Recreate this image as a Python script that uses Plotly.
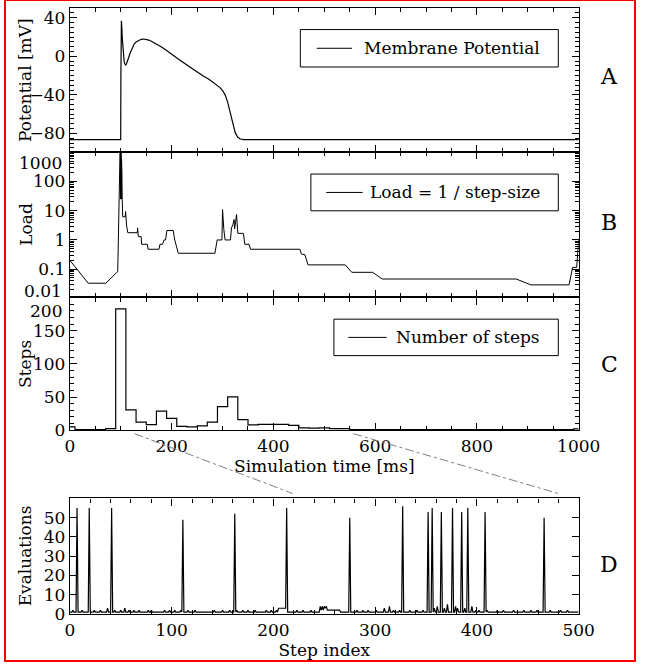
import plotly.graph_objects as go

# ---------------- data ----------------
# Panel A: membrane potential
time_ms = [0, 99.8, 100.2, 100.6, 101.2, 102, 103, 104, 105, 106.5, 108, 109.5, 111, 113, 115,
           118, 122, 126, 130, 135, 140, 145, 150, 155, 160, 170, 180, 190, 200, 215, 230, 249,
           262, 274, 286, 295, 300, 305, 310, 315, 320, 325, 330, 335, 342, 360, 1000]
potential_mv = [-86.5, -86.5, -20, 20, 37, 30, 18, 8, 0, -5, -8, -9, -8, -5.5, -2,
                3, 8.5, 12.5, 15, 16.8, 17.7, 18, 17.6, 16.9, 15.6, 13, 9.8, 6, 2, -3.5, -9, -16,
                -20.5, -24, -28.5, -32.5, -35.5, -40, -47.5, -58, -70.5, -79.5, -84, -85.8, -86.4, -86.5, -86.5]

# Panel B: load = 1 / step-size
time_load = [0, 36, 70.5, 94, 99, 99.4, 99.8, 100.2, 100.6, 101, 101.4, 101.8, 102.2, 102.8, 103.7,
             108.8, 109.4, 111.5, 113.8, 132.5, 133, 134.4, 140, 141, 152, 153.8, 175, 177, 182, 185,
             188, 190.6, 203, 206, 209, 213, 285, 289.4, 298.8, 300, 302.5, 305, 315.6, 317.5, 320.6,
             322.5, 323.8, 327.5, 330, 341, 343.8, 352, 355, 452, 455, 462, 468, 541, 554, 595,
             614, 877, 906, 981, 988, 996, 1000]
load = [0.2, 0.033, 0.033, 0.083, 3000, 25, 2000, 30, 1500, 25, 600, 40, 200, 25, 6.2,
        6.2, 9.4, 3, 1.77, 1.77, 2.6, 1.3, 1.3, 0.71, 0.71, 0.48, 0.48, 0.71, 0.71, 1.0,
        1.0, 2.1, 2.1, 1.0, 0.6, 0.35, 0.35, 1.0, 1.0, 11, 2.3, 1.0, 1.0, 2.6, 3.4,
        5, 2.4, 7.4, 1.68, 1.68, 0.71, 0.71, 0.48, 0.48, 0.33, 0.31, 0.14, 0.14, 0.078, 0.078,
        0.046, 0.046, 0.029, 0.029, 0.115, 0.115, 1.0]

# Panel C: number of steps per time bin (bin edges in ms)
bin_edges = [0, 10, 30, 50, 70, 90, 110, 130, 150, 170, 190, 210, 230, 250, 270, 290, 310, 330,
             350, 370, 390, 410, 430, 450, 470, 490, 510, 530, 550, 570, 590, 610, 630, 650, 670,
             690, 710, 730, 750, 770, 790, 810, 830, 850, 870, 890, 910, 930, 950, 970, 990, 1000]
steps_per_bin = [5, 1, 1, 1, 2.5, 183, 30.5, 12.3, 8.4, 28.6, 17.7, 5.9, 4.9, 6.4, 12.3, 35.5, 50.2,
                 15.8, 7.9, 8.9, 8.9, 8.9, 7.4, 3.4, 3, 3.4, 2.5, 2.5, 1, 1, 1, 1, 1, 1, 1,
                 1, 1, 1, 1, 1, 1, 1, 1, 1, 1, 1, 1, 1, 1, 1, 2]

# Panel D: evaluations per step
n_steps = 500
baseline_evals = 1
spike_steps = [7, 19, 41, 111, 162, 213, 275, 327, 352, 356, 365, 376, 385, 391, 408, 466]
spike_evals = [55, 55, 55, 49, 52, 55, 50, 56, 53, 55, 53, 55, 53, 55, 53, 50]
bump_steps = [3, 12, 24, 30, 37, 44, 50, 54, 58, 63, 68, 77, 80, 93, 98, 103, 109, 116, 123,
              142, 150, 157, 164, 170, 175, 182, 193, 198, 203, 205, 206, 207, 208, 209, 210, 211,
              212, 223, 229, 237, 246, 247, 248, 249, 250, 251, 252, 253, 254, 255, 256, 257, 258,
              259, 260, 261, 262, 263, 264, 265, 282, 288, 293, 301, 309, 314, 318, 324, 334, 341,
              347, 358, 361, 368, 371, 379, 381, 388, 395, 399, 402, 410, 420, 426, 436, 446, 453,
              459, 472, 482, 489]
bump_evals = [2, 2, 2, 2, 3, 2, 2, 3, 2, 2, 2, 2, 2, 2, 2, 2, 2, 2, 2,
              2, 2, 2, 2, 2, 2, 2, 2, 2, 2, 3, 3, 3, 3, 3, 3, 3,
              3, 2, 2, 2, 4, 2, 4, 2, 4, 3, 4, 2, 2, 2, 2, 2, 2,
              2, 2, 2, 2, 2, 2, 2, 2, 2, 2, 2, 3, 4, 2, 2, 2, 2,
              2, 3, 4, 3, 5, 4, 3, 3, 4, 2, 2, 2, 2, 2, 2, 2, 2,
              2, 2, 2, 2]

step_index = list(range(n_steps + 1))
evaluations = [baseline_evals] * (n_steps + 1)
for s, v in zip(bump_steps, bump_evals):
    evaluations[s] = v
for s, v in zip(spike_steps, spike_evals):
    evaluations[s] = v

# Connector lines: time (ms) in panel C -> step index in panel D
connector_time = [127, 557]
connector_step = [219, 480]

# ---------------- layout helpers ----------------
W, H = 657, 671
FONT = "DejaVu Serif, Liberation Serif, serif"


def px(x):
    return x / W


def py(y):
    return 1 - y / H


XL, XR = 67.7, 598.3
A_top, A_bot = 8.3, 154
B_top, B_bot = 154, 302
C_top, C_bot = 302, 436.7
D_top, D_bot = 506, 623.3

dom_x = [px(XL), px(XR)]

tickfont = dict(family=FONT, size=17, color="black")
common = dict(showline=True, linecolor="black", linewidth=1.3, mirror="allticks",
              ticks="inside", ticklen=7, tickwidth=1, tickcolor="black",
              showgrid=False, zeroline=False, tickfont=tickfont)

fig = go.Figure()
fig.add_trace(go.Scatter(x=time_ms, y=potential_mv, mode="lines", name="Membrane Potential",
                         line=dict(color="black", width=1.2), xaxis="x", yaxis="y", showlegend=False))
fig.add_trace(go.Scatter(x=time_load, y=load, mode="lines", name="Load = 1 / step-size",
                         line=dict(color="black", width=1), xaxis="x2", yaxis="y2", showlegend=False))
fig.add_trace(go.Scatter(x=bin_edges, y=steps_per_bin + [steps_per_bin[-1]], mode="lines",
                         name="Number of steps", line=dict(color="black", width=1.2, shape="hv"),
                         xaxis="x3", yaxis="y3", showlegend=False))
fig.add_trace(go.Scatter(x=step_index, y=evaluations, mode="lines", name="Evaluations",
                         line=dict(color="black", width=1.2), xaxis="x4", yaxis="y4", showlegend=False))

minor_t = dict(ticks="inside", ticklen=4, tickcolor="black", dtick=50, showgrid=False)
log_minor_vals = [k * 10 ** e for e in range(-2, 3) for k in range(2, 10)]

fig.update_layout(
    width=W, height=H, margin=dict(l=0, r=0, t=0, b=0),
    paper_bgcolor="white", plot_bgcolor="white",
    xaxis=dict(domain=dom_x, anchor="y", range=[0, 1000], dtick=200, showticklabels=False,
               minor=minor_t, **common),
    yaxis=dict(domain=[py(A_bot), py(A_top)], anchor="x", range=[-99, 50],
               tickvals=[-80, -40, 0, 40],
               minor=dict(ticks="inside", ticklen=4, dtick=5, tickcolor="black", showgrid=False),
               **common),
    xaxis2=dict(domain=dom_x, anchor="y2", range=[0, 1000], dtick=200, showticklabels=False,
                minor=minor_t, **common),
    yaxis2=dict(domain=[py(B_bot), py(B_top)], anchor="x2", type="log", range=[-1.97, 3.02],
                tickvals=[0.1, 1, 10, 100, 1000], ticktext=["0.1", "1", "10", "100", ""],
                minor=dict(ticks="inside", ticklen=4, tickmode="array", tickvals=log_minor_vals,
                           tickcolor="black", showgrid=False),
                **common),
    xaxis3=dict(domain=dom_x, anchor="y3", range=[0, 1000], dtick=200, minor=minor_t,
                title=dict(text="Simulation time [ms]", font=dict(family=FONT, size=17, color="black"),
                           standoff=4),
                **common),
    yaxis3=dict(domain=[py(C_bot), py(C_top)], anchor="x3", range=[0, 200],
                tickvals=[0, 50, 100, 150, 200], ticktext=["0", "50", "100", "150", ""],
                minor=dict(ticks="inside", ticklen=4, dtick=10, tickcolor="black", showgrid=False),
                **common),
    xaxis4=dict(domain=dom_x, anchor="y4", range=[0, 500], dtick=100,
                minor=dict(ticks="inside", ticklen=4, dtick=20, tickcolor="black", showgrid=False),
                title=dict(text="Step index", font=dict(family=FONT, size=17, color="black"), standoff=2),
                **common),
    yaxis4=dict(domain=[py(D_bot), py(D_top)], anchor="x4", range=[0, 60],
                tickvals=[0, 10, 20, 30, 40, 50, 60], ticktext=["0", "10", "20", "30", "40", "50", ""],
                **common),
)

annots = []
shapes = []

# y-axis titles
for text, top, bot in [("Potential [mV]", A_top, A_bot), ("Load", B_top, B_bot),
                       ("Steps", C_top, C_bot), ("Evaluations", D_top, D_bot)]:
    annots.append(dict(text=text, x=px(21), y=py((top + bot) / 2), xref="paper", yref="paper",
                       textangle=-90, showarrow=False, xanchor="center", yanchor="middle",
                       font=dict(family=FONT, size=17, color="black")))

# shifted edge tick labels
for text, y in [("1000", 165.5), ("0.01", 295), ("200", 315.5)]:
    annots.append(dict(text=text, x=px(62), y=py(y), xref="paper", yref="paper", showarrow=False,
                       xanchor="right", yanchor="middle", font=tickfont))

# panel letters
for text, y in [("A", 78), ("B", 226), ("C", 370), ("D", 573)]:
    annots.append(dict(text=text, x=px(630), y=py(y), xref="paper", yref="paper", showarrow=False,
                       xanchor="center", yanchor="middle",
                       font=dict(family=FONT, size=22, color="black")))

# legend boxes
for text, x0, y0, y1, lx0, lx1 in [("Membrane Potential", 308, 30, 68, 325, 362),
                                   ("Load = 1 / step-size", 319, 176.7, 214, 335, 373),
                                   ("Number of steps", 343, 324, 361, 358, 398)]:
    shapes.append(dict(type="rect", xref="paper", yref="paper", x0=px(x0), x1=px(577),
                       y0=py(y1), y1=py(y0), line=dict(color="black", width=1), fillcolor="white",
                       layer="above"))
    ym = (y0 + y1) / 2
    shapes.append(dict(type="line", xref="paper", yref="paper", x0=px(lx0), x1=px(lx1),
                       y0=py(ym), y1=py(ym), line=dict(color="black", width=1), layer="above"))
    annots.append(dict(text=text, x=px(560), y=py(ym), xref="paper", yref="paper", showarrow=False,
                       xanchor="right", yanchor="middle", font=dict(family=FONT, size=17, color="black")))

# connector lines from time axis to step-index panel
for t, s in zip(connector_time, connector_step):
    x0 = XL + t / 1000 * (XR - XL)
    x1 = XL + s / 500 * (XR - XL)
    shapes.append(dict(type="line", xref="paper", yref="paper", x0=px(x0), y0=py(C_bot + 3.5),
                       x1=px(x1), y1=py(D_top - 5), line=dict(color="gray", width=1, dash="dashdot"),
                       layer="above"))

# temporary diagnostic frame of the figure edges
shapes.append(dict(type="rect", xref="paper", yref="paper", x0=0, x1=1, y0=0, y1=1,
                   line=dict(color="red", width=2), layer="above"))

fig.update_layout(annotations=annots, shapes=shapes)
fig.write_html("out.html", config={"displayModeBar": False},
               post_script=("document.documentElement.style.overflow='hidden';"
                            "document.body.style.margin='0';document.body.style.overflow='hidden';"
                            "document.querySelectorAll('.plotly-notifier').forEach(function(e){e.remove();});"))
